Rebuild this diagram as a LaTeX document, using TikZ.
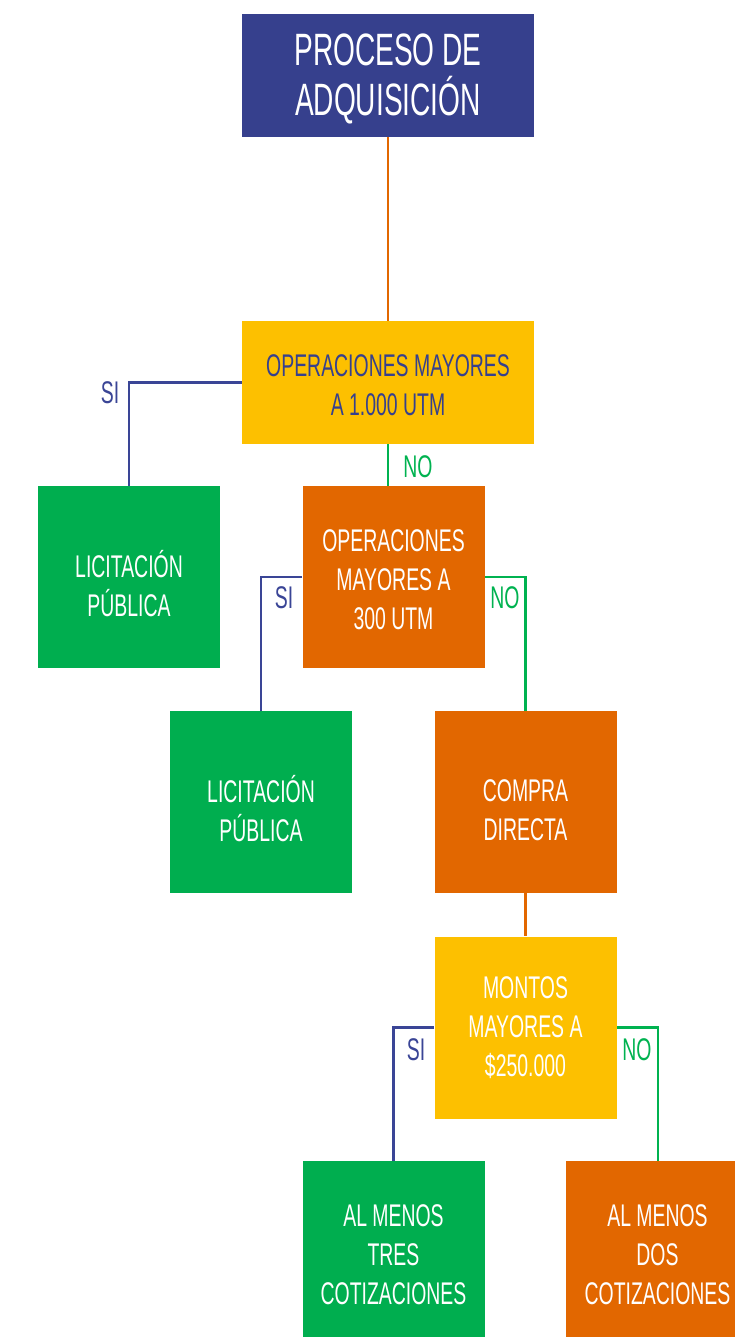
\documentclass[tikz,border=0pt]{standalone}
\usepackage{fontspec}
\setmainfont{Liberation Sans}[FakeStretch=0.62]
\usetikzlibrary{calc}
\definecolor{navy}{RGB}{54,64,141}
\definecolor{gold}{RGB}{253,192,0}
\definecolor{orng}{RGB}{226,103,0}
\definecolor{grn}{RGB}{0,174,79}
\definecolor{bline}{RGB}{58,69,150}
\definecolor{gline}{RGB}{0,178,80}
\tikzset{
  box/.style={rectangle, inner sep=0pt},
  sq/.style={box, minimum width=182*0.75pt, minimum height=182*0.75pt},
  wide/.style={box, minimum width=292*0.75pt, minimum height=123*0.75pt},
  txt/.style={inner sep=0pt, align=center, text=white,
    font=\fontsize{23.5}{29.2}\selectfont},
  lab/.style={font=\fontsize{23.5}{29}\selectfont},
  conn/.style={line width=2pt},
}
\begin{document}
\begin{tikzpicture}[x=0.75pt,y=-0.75pt]
\useasboundingbox (0,0) rectangle (735,1337);
\node[wide, fill=navy] (top) at (388,75.5) {};
\node[wide, fill=gold] (q1) at (388,382.5) {};
\node[sq, fill=grn] (lic1) at (129,577) {};
\node[sq, fill=orng] (q2) at (393.5,577) {};
\node[sq, fill=grn] (lic2) at (261,802) {};
\node[sq, fill=orng] (cd) at (525.5,802) {};
\node[sq, fill=gold] (q3) at (525.5,1027.5) {};
\node[sq, fill=grn, minimum height=176*0.75pt] (tres) at (393.5,1249) {};
\node[sq, fill=orng, minimum width=169*0.75pt, minimum height=176*0.75pt] (dos) at (650.5,1249) {};
\coordinate (dosin) at (658,1161);

\node[txt, font=\fontsize{34}{37.5}\selectfont] (topt) at ($(top)+(0,3)$) {PROCESO DE\\ADQUISICIÓN};
\node[txt, text=navy] (q1t) at ($(q1)+(0,3)$) {OPERACIONES MAYORES\\A 1.000 UTM};
\node[txt] (lic1t) at ($(lic1)+(0,7)$) {LICITACIÓN\\PÚBLICA};
\node[txt] (q2t) at ($(q2)+(0,3)$) {OPERACIONES\\MAYORES A\\300 UTM};
\node[txt] (lic2t) at ($(lic2)+(0,7)$) {LICITACIÓN\\PÚBLICA};
\node[txt] (cdt) at ($(cd)+(0,8)$) {COMPRA\\DIRECTA};
\node[txt] (q3t) at ($(q3)+(0,0)$) {MONTOS\\MAYORES A\\\$250.000};
\node[txt] (trest) at ($(tres)+(0,6)$) {AL MENOS\\TRES\\COTIZACIONES};
\node[txt] (dost) at ($(dos)+(7,6)$) {AL MENOS\\DOS\\COTIZACIONES};

\draw[conn, orng] (top.south) -- (q1.north);
\draw[conn, bline] (q1.west) -| (lic1.north);
\draw[conn, gline] (q1.south) -- (q1.south |- q2.north);
\draw[conn, bline] (q2.west) -| (lic2.north);
\draw[conn, gline] (q2.east) -| (cd.north);
\draw[conn, orng] (cd.south) -- (q3.north);
\draw[conn, bline] (q3.west) -| (tres.north);
\draw[conn, gline] (q3.east) -| (dosin);

\node[lab, text=bline] (si1) at (110,393) {SI};
\node[lab, text=gline] (no1) at (418,467) {NO};
\node[lab, text=bline] (si2) at (284,598) {SI};
\node[lab, text=gline] (no2) at (505,598) {NO};
\node[lab, text=bline] (si3) at (416,1050) {SI};
\node[lab, text=gline] (no3) at (637,1050) {NO};
\end{tikzpicture}
\end{document}
